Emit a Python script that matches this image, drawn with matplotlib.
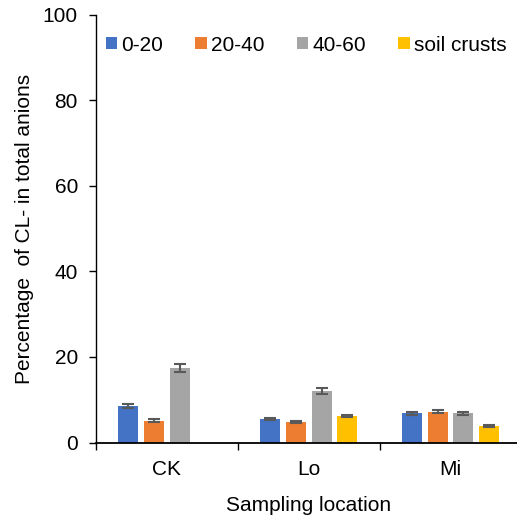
import numpy as np
import matplotlib.pyplot as plt

plt.rcParams['font.family'] = ['Liberation Sans', 'DejaVu Sans']
plt.rcParams['font.size'] = 15

locations = ['CK', 'Lo', 'Mi']
depths = ['0-20', '20-40', '40-60', 'soil crusts']
colors = ['#4472C4', '#ED7D31', '#A5A5A5', '#FFC000']

# percentage values per depth (CK has no crust sample)
values = [
    [8.5, 5.45, 6.8],
    [5.1, 4.8, 7.2],
    [17.4, 12.1, 6.8],
    [np.nan, 6.2, 3.9],
]
errors = [
    [0.5, 0.3, 0.35],
    [0.3, 0.3, 0.35],
    [0.9, 0.7, 0.35],
    [np.nan, 0.3, 0.2],
]

fig = plt.figure(figsize=(5.17, 5.17), dpi=100)
ax = fig.add_axes([96 / 517, (517 - 442.5) / 517, 425.5 / 517, 427.8 / 517])

x = np.arange(len(locations))
slot = 0.182
width = 0.141
for i, (d, c) in enumerate(zip(depths, colors)):
    pos = x + (i - 1.5) * slot
    ax.bar(pos, values[i], width, color=c, label=d, zorder=2)
    ax.errorbar(pos, values[i], yerr=errors[i], fmt='none', ecolor='#595959',
                elinewidth=1.5, capsize=4.5, capthick=1.5, zorder=3)

ax.set_xlim(-0.5, 2.5)
ax.set_ylim(0, 100)
ax.set_yticks(range(0, 101, 20))
ax.set_xticks(x)
ax.set_xticklabels(locations)
ax.set_xticks(np.arange(-0.5, 3.0, 1.0), minor=True)
ax.tick_params(axis='x', which='major', length=0, pad=12.5)
ax.tick_params(axis='x', which='minor', length=5, width=1, color='black')
ax.tick_params(axis='y', length=5, width=1, pad=8)

for s in ['top', 'right']:
    ax.spines[s].set_visible(False)
ax.spines['left'].set_linewidth(1)
ax.spines['bottom'].set_linewidth(1.3)

ax.set_xlabel('Sampling location', labelpad=12)
ax.set_ylabel('Percentage  of CL- in total anions', labelpad=6)

ax.legend(loc='center', bbox_to_anchor=(0.494, 0.929), ncol=4, frameon=False,
          handlelength=0.55, handleheight=0.55, handletextpad=0.2, columnspacing=1.55,
          borderaxespad=0, borderpad=0)

fig.savefig('out.png', dpi=100)
